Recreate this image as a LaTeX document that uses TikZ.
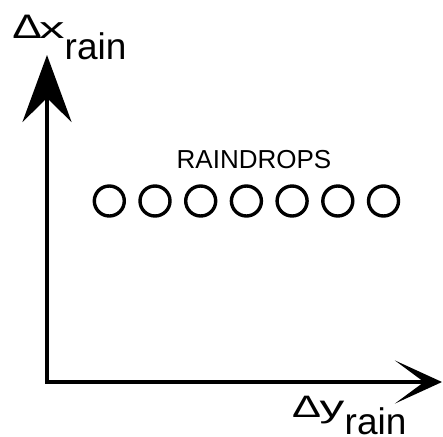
\documentclass[tikz,border=0pt]{standalone}
\usepackage{fontspec}
\usepackage{graphicx}
\setmainfont{Liberation Sans}
\usetikzlibrary{arrows.meta}
\begin{document}
\begin{tikzpicture}[x=1pt,y=-1pt,
  axis/.style={line width=4pt,line cap=rect},
  drop/.style={circle,draw,line width=3.4pt,minimum size=30pt,inner sep=0pt},
  lbl/.style={anchor=base west,inner sep=0pt}]
\useasboundingbox (0,0) rectangle (443,436);
\coordinate (o) at (47,382);
\coordinate (ytip) at (47,55);
\coordinate (xtip) at (442,382);
\draw[axis,-{Stealth[length=67pt,width=49pt,inset=24pt]}] (o) -- (ytip);
\draw[axis,-{Stealth[length=47pt,width=43pt,inset=29pt]}] (o) -- (xtip);
\node[lbl] (dx) at (12.3,38.3) {\scalebox{1.3}[1]{\fontsize{34}{34}\selectfont Δ}\hspace{-2.8pt}\scalebox{1.7}[1]{\fontsize{30}{30}\selectfont x}};
\node[lbl] (dxs) at (64.5,59) {\fontsize{37}{37}\selectfont rain};
\node[lbl] (dy) at (292,417.3) {\scalebox{1.4}[1]{\fontsize{31}{31}\selectfont Δ}\hspace{-1.5pt}\scalebox{1.6}[1]{\fontsize{31}{31}\selectfont y}};
\node[lbl] (dys) at (344.5,434.3) {\fontsize{37}{37}\selectfont rain};
\node[anchor=base,inner sep=0pt] (title) at (254,168) {\fontsize{26}{26}\selectfont RAINDROPS};
\foreach \i in {0,...,6}{
  \node[drop] (d\i) at ({109.3+45.7*\i},201) {};
}
\end{tikzpicture}
\end{document}
